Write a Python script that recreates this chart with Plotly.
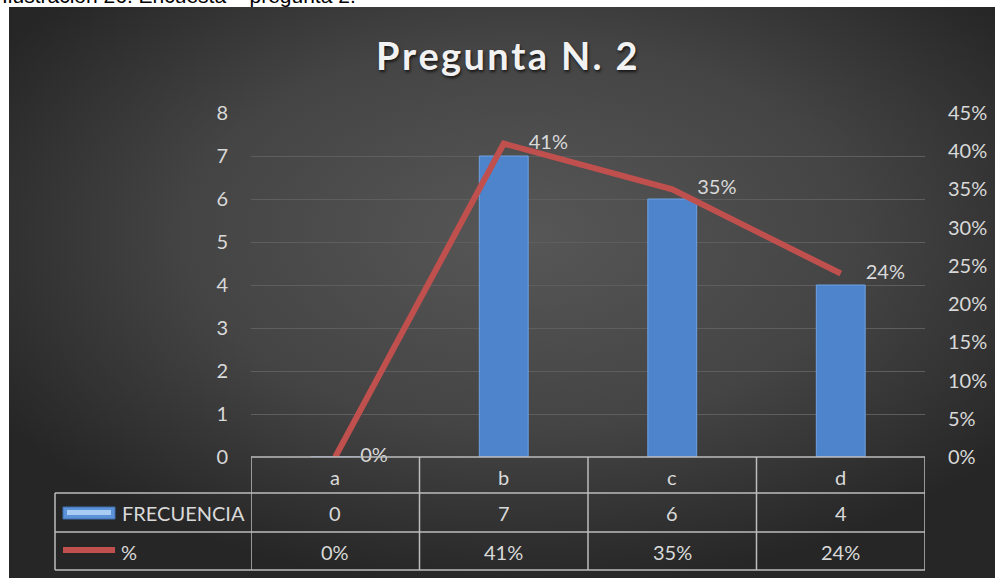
import base64
import plotly.graph_objects as go

# ---------------- data ----------------
categories = ["a", "b", "c", "d"]
frecuencia = [0, 7, 6, 4]
porcentaje = [0.0, 0.41, 0.35, 0.24]
left_ticks = [0, 1, 2, 3, 4, 5, 6, 7, 8]
right_ticks = [0, 0.05, 0.10, 0.15, 0.20, 0.25, 0.30, 0.35, 0.40, 0.45]
title_text = "Pregunta N. 2"
caption_text = "Ilustración 26. Encuesta – pregunta 2."
series_names = ["FRECUENCIA", "%"]

# ---------------- geometry helpers ----------------
W, H = 995, 578
L, R, T, B = 251, 925, 113, 457  # plot area in pixels
PW, PH = R - L, B - T

def px_x(p):
    return (p - L) / PW

def px_y(p):
    return (B - p) / PH

TXT = "#D9D9D9"
FONT = "Lato"
GRID = "#5E5E5E"
TABLE = "#BDBDBD"
RED = "#C0504D"

svg = f'''<svg xmlns="http://www.w3.org/2000/svg" width="986" height="571" viewBox="0 0 986 571" preserveAspectRatio="none">
<defs><radialGradient id="g" cx="52%" cy="40%" r="62%" fx="52%" fy="40%">
<stop offset="0%" stop-color="#575757"/><stop offset="55%" stop-color="#444444"/>
<stop offset="100%" stop-color="#262626"/></radialGradient></defs>
<rect width="986" height="571" fill="url(#g)"/></svg>'''
bg_src = "data:image/svg+xml;base64," + base64.b64encode(svg.encode()).decode()

fig = go.Figure()

fig.add_trace(go.Bar(
    x=categories, y=frecuencia, name=series_names[0], width=0.29,
    marker=dict(color="#4E84CC", line=dict(color="#6FA2E2", width=1)),
    hoverinfo="x+y",
))

fig.add_trace(go.Scatter(
    x=categories, y=porcentaje, name=series_names[1], yaxis="y2",
    mode="lines+text", line=dict(color=RED, width=6),
    texttemplate="\u2003\u2002%{y:.0%}", textposition="middle right",
    textfont=dict(family=FONT, size=20, color=TXT), cliponaxis=False,
))

shapes = []
annotations = []

# table lines
x_bounds = [-0.5, 0.5, 1.5, 2.5, 3.5]
row_y = [B, 493, 532, 570]
line_style = dict(color=TABLE, width=1.5)
for yy in row_y:
    shapes.append(dict(type="line", xref="x", yref="paper", x0=-0.5, x1=3.5,
                       y0=px_y(yy), y1=px_y(yy), line=line_style, layer="above"))
for yy in row_y[1:]:
    shapes.append(dict(type="line", xref="paper", yref="paper", x0=px_x(55), x1=0,
                       y0=px_y(yy), y1=px_y(yy), line=line_style, layer="above"))
for xb in x_bounds:
    shapes.append(dict(type="line", xref="x", yref="paper", x0=xb, x1=xb,
                       y0=px_y(B), y1=px_y(570), line=line_style, layer="above"))
shapes.append(dict(type="line", xref="paper", yref="paper", x0=px_x(55), x1=px_x(55),
                   y0=px_y(493), y1=px_y(570), line=line_style, layer="above"))

# legend keys
shapes.append(dict(type="rect", xref="paper", yref="paper", x0=px_x(63), x1=px_x(115),
                   y0=px_y(519), y1=px_y(507), fillcolor="#5C93D8",
                   line=dict(color="#3E6DAE", width=1), layer="above"))
shapes.append(dict(type="rect", xref="paper", yref="paper", x0=px_x(67), x1=px_x(111),
                   y0=px_y(515), y1=px_y(510), fillcolor="#A9CCF4",
                   line=dict(width=0), layer="above"))
shapes.append(dict(type="line", xref="paper", yref="paper", x0=px_x(63), x1=px_x(115),
                   y0=px_y(550), y1=px_y(550), line=dict(color=RED, width=6), layer="above"))

row_centers = [477, 513, 552]
cell_font = dict(family=FONT, size=20, color=TXT)
for c in categories:
    annotations.append(dict(x=c, y=px_y(row_centers[0]), xref="x", yref="paper",
                            xanchor="center", yanchor="middle",
                            text=c, showarrow=False, font=cell_font))
for c, v in zip(categories, frecuencia):
    annotations.append(dict(x=c, y=px_y(row_centers[1]), xref="x", yref="paper",
                            xanchor="center", yanchor="middle",
                            text=str(v), showarrow=False, font=cell_font))
for c, v in zip(categories, porcentaje):
    annotations.append(dict(x=c, y=px_y(row_centers[2]), xref="x", yref="paper",
                            xanchor="center", yanchor="middle",
                            text=f"{round(v*100):.0f}%", showarrow=False, font=cell_font))
annotations.append(dict(x=px_x(120), y=px_y(row_centers[1]), xref="paper", yref="paper",
                        xanchor="left", yanchor="middle", text=series_names[0],
                        showarrow=False, font=cell_font))
annotations.append(dict(x=px_x(119), y=px_y(row_centers[2]), xref="paper", yref="paper",
                        xanchor="left", yanchor="middle", text=series_names[1],
                        showarrow=False, font=cell_font))
# title (letter-spaced like the reference)
spaced_title = "\u200a".join(title_text)
annotations.append(dict(x=px_x(507), y=px_y(55), xref="paper", yref="paper",
                        xanchor="center", yanchor="middle",
                        text=f"<b>{spaced_title}</b>", showarrow=False,
                        font=dict(family=FONT, size=38, color="#F2F2F2",
                                  shadow="1px 2px 3px rgba(0,0,0,0.7)")))
# caption (partially cut off at top of page)
annotations.append(dict(x=px_x(0), y=px_y(9), xref="paper", yref="paper",
                        xanchor="left", yanchor="bottom", text=caption_text, showarrow=False,
                        font=dict(family="Liberation Sans", size=21, color="#000000")))

fig.update_layout(
    width=W, height=H,
    margin=dict(l=L, r=W - R, t=T, b=H - B, pad=0),
    paper_bgcolor="#FFFFFF", plot_bgcolor="rgba(0,0,0,0)",
    showlegend=False, bargap=0.7,
    images=[dict(source=bg_src, xref="paper", yref="paper", x=px_x(9), y=px_y(7),
                 sizex=(W - 9) / PW, sizey=(H - 7) / PH, sizing="stretch",
                 xanchor="left", yanchor="top", layer="below")],
    xaxis=dict(type="category", range=[-0.5, 3.5], showticklabels=False, showgrid=False,
               zeroline=False, showline=False, ticks="", automargin=False),
    yaxis=dict(range=[0, 8], tickvals=left_ticks, showgrid=True, gridcolor=GRID, gridwidth=1,
               zeroline=False, showline=False, ticks="", ticklabelstandoff=22, automargin=False,
               tickfont=dict(family=FONT, size=20, color=TXT)),
    yaxis2=dict(range=[0, 0.45], tickvals=right_ticks, tickformat=".0%", overlaying="y",
                side="right", showgrid=False, zeroline=False, showline=False, ticks="",
                ticklabelstandoff=22, automargin=False,
                tickfont=dict(family=FONT, size=20, color=TXT)),
    shapes=shapes, annotations=annotations,
)

fig.write_html("out.html", config={"displayModeBar": False},
               post_script="document.body.style.margin='0px';")
